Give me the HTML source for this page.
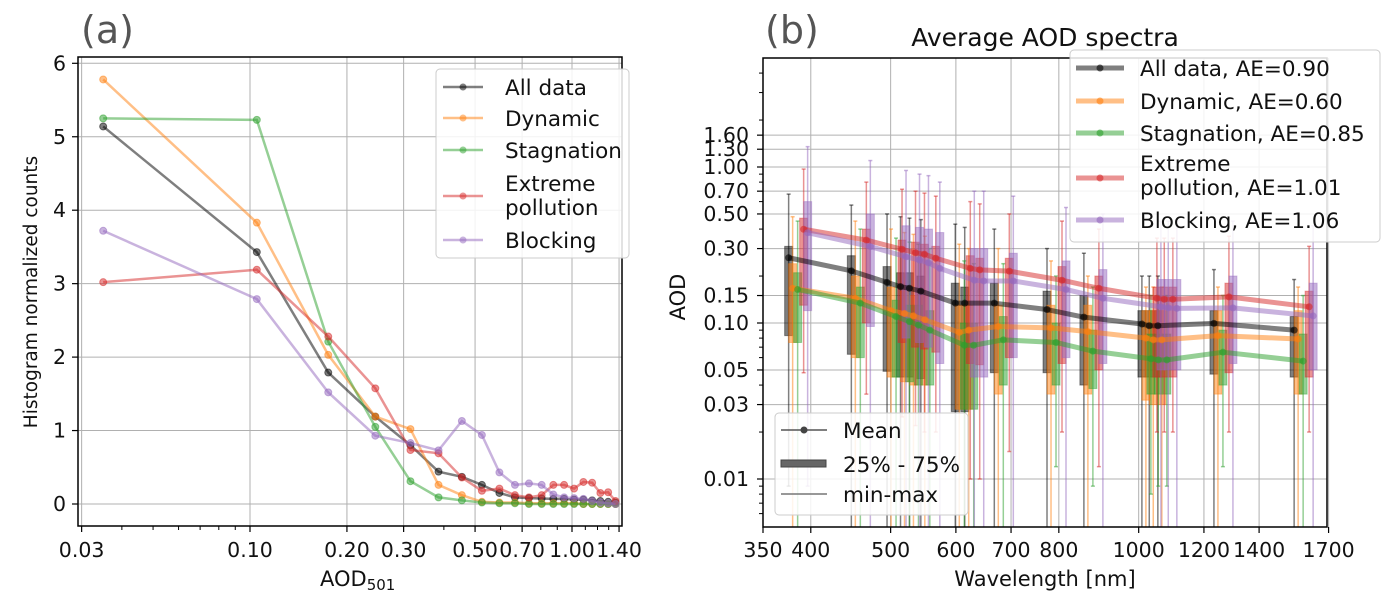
<!DOCTYPE html>
<html><head><meta charset="utf-8"><style>
body{margin:0;background:#fff}
svg{display:block;font-family:"DejaVu Sans","Liberation Sans",sans-serif}
</style></head><body>
<svg id="fig" width="1392" height="601" viewBox="0 0 1392 601">
<defs>
<clipPath id="clipA"><rect x="78" y="57" width="544" height="469"/></clipPath>
<clipPath id="clipB"><rect x="763" y="58" width="564" height="469"/></clipPath>
</defs>
<g id="panelA"></g>
<g id="panelB"></g>
</svg>
<script>
// ---------- Panel (a) data ----------
const binCenters = [0.035,0.105,0.175,0.245,0.315,0.385,0.455,0.525,0.595,0.665,0.735,0.805,0.875,0.945,1.015,1.085,1.155,1.225,1.295,1.365];
const histAll = [5.14,3.43,1.79,1.19,0.80,0.44,0.37,0.26,0.15,0.09,0.08,0.075,0.07,0.07,0.06,0.06,0.05,0.04,0.03,0.02];
const histDynamic = [5.78,3.83,2.03,1.19,1.02,0.26,0.12,0.03,0.02,0.02,0.01,0.01,0.01,0.01,0.01,0.0,0.0,0.0,0.0,0.0];
const histStagnation = [5.25,5.23,2.21,1.05,0.31,0.09,0.05,0.02,0.01,0.01,0.0,0.0,0.0,0.0,0.0,0.0,0.0,0.0,0.0,0.0];
const histExtreme = [3.02,3.19,2.28,1.575,0.735,0.69,0.36,0.18,0.21,0.12,0.09,0.12,0.26,0.26,0.21,0.30,0.29,0.15,0.16,0.04];
const histBlocking = [3.72,2.79,1.52,0.93,0.83,0.73,1.13,0.94,0.43,0.26,0.28,0.26,0.13,0.09,0.08,0.07,0.04,0.02,0.01,0.0];
const aXTicks = [0.03,0.1,0.2,0.3,0.5,0.7,1.0,1.4];
const aXTickLabels = ["0.03","0.10","0.20","0.30","0.50","0.70","1.00","1.40"];
const aYTicks = [0,1,2,3,4,5,6];

// ---------- Panel (b) data ----------
const wavelengths = [376,448,495,514,527,544,599,615,668,774,858,1009,1030,1055,1234,1544];
const meanAll = [0.262,0.216,0.182,0.171,0.167,0.160,0.134,0.134,0.134,0.122,0.109,0.0985,0.096,0.096,0.0995,0.090];
const meanDynamic = [0.167,0.144,0.120,0.115,0.111,0.105,0.087,0.090,0.095,0.093,0.088,0.080,0.078,0.078,0.083,0.079];
const meanStagnation = [0.164,0.134,0.110,0.102,0.097,0.090,0.072,0.072,0.078,0.075,0.066,0.059,0.058,0.058,0.065,0.057];
const meanExtreme = [0.399,0.34,0.297,0.282,0.276,0.26,0.224,0.219,0.215,0.188,0.167,0.144,0.142,0.142,0.147,0.127];
const meanBlocking = [0.379,0.309,0.266,0.253,0.243,0.224,0.188,0.186,0.186,0.164,0.144,0.127,0.125,0.124,0.125,0.111];
const q75All = [0.31,0.27,0.23,0.21,0.21,0.2,0.18,0.17,0.18,0.16,0.15,0.12,0.12,0.12,0.12,0.11];
const q25All = [0.083,0.063,0.049,0.045,0.045,0.044,0.027,0.027,0.048,0.048,0.04,0.045,0.045,0.045,0.047,0.045];
const maxAll = [0.67,0.57,0.5,0.48,0.47,0.46,0.43,0.41,0.4,0.3,0.28,0.2,0.2,0.2,0.22,0.19];
const minAll = [0.009,0.003,0.003,0.003,0.003,0.003,0.003,0.003,0.003,0.003,0.003,0.003,0.003,0.003,0.003,0.003];
const q75Dynamic = [0.24,0.2,0.17,0.16,0.15,0.15,0.13,0.13,0.13,0.13,0.13,0.12,0.12,0.12,0.12,0.12];
const q25Dynamic = [0.075,0.06,0.045,0.042,0.04,0.04,0.028,0.028,0.035,0.035,0.035,0.032,0.03,0.03,0.035,0.035];
const maxDynamic = [0.48,0.45,0.4,0.38,0.37,0.36,0.32,0.3,0.3,0.25,0.2,0.17,0.17,0.17,0.17,0.17];
const minDynamic = [0.003,0.003,0.003,0.003,0.003,0.003,0.003,0.003,0.003,0.003,0.003,0.003,0.003,0.003,0.003,0.003];
const q75Stagnation = [0.21,0.17,0.14,0.13,0.13,0.12,0.1,0.1,0.11,0.1,0.09,0.085,0.085,0.085,0.09,0.085];
const q25Stagnation = [0.075,0.06,0.045,0.042,0.04,0.04,0.028,0.028,0.04,0.04,0.038,0.035,0.035,0.035,0.04,0.035];
const maxStagnation = [0.45,0.4,0.35,0.33,0.32,0.3,0.25,0.24,0.24,0.2,0.17,0.15,0.15,0.15,0.15,0.15];
const minStagnation = [0.003,0.003,0.003,0.003,0.003,0.003,0.003,0.003,0.003,0.012,0.009,0.008,0.009,0.009,0.012,0.003];
const q75Extreme = [0.47,0.4,0.34,0.33,0.32,0.31,0.27,0.26,0.26,0.23,0.2,0.17,0.17,0.17,0.18,0.16];
const q25Extreme = [0.13,0.1,0.075,0.07,0.068,0.065,0.055,0.054,0.06,0.055,0.05,0.045,0.045,0.045,0.048,0.045];
const maxExtreme = [0.97,0.8,0.72,0.7,0.68,0.65,0.6,0.58,0.5,0.45,0.4,0.35,0.35,0.35,0.36,0.31];
const minExtreme = [0.048,0.035,0.025,0.022,0.02,0.02,0.01,0.01,0.015,0.02,0.012,0.02,0.02,0.02,0.02,0.02];
const q75Blocking = [0.6,0.5,0.42,0.41,0.4,0.38,0.3,0.3,0.28,0.25,0.22,0.19,0.19,0.19,0.2,0.18];
const q25Blocking = [0.12,0.095,0.08,0.075,0.07,0.055,0.045,0.045,0.06,0.06,0.055,0.05,0.05,0.05,0.055,0.05];
const maxBlocking = [1.35,1.1,0.95,0.9,0.88,0.8,0.7,0.7,0.65,0.55,0.5,0.45,0.45,0.45,0.45,0.42];
const minBlocking = [0.009,0.003,0.003,0.003,0.003,0.003,0.003,0.003,0.003,0.003,0.003,0.003,0.003,0.003,0.003,0.003];
const bXTicks = [350,400,500,600,700,800,1000,1200,1400,1700];
const bYTicks = [0.01,0.03,0.05,0.1,0.15,0.3,0.5,0.7,1.0,1.3,1.6];
const bYTickLabels = ["0.01","0.03","0.05","0.10","0.15","0.30","0.50","0.70","1.00","1.30","1.60"];

const NS="http://www.w3.org/2000/svg";
function mk(parent,tag,attrs,text){const e=document.createElementNS(NS,tag);for(const k in attrs)e.setAttribute(k,attrs[k]);if(text!==undefined)e.textContent=text;parent.appendChild(e);return e;}

const axA = v => 250 + 322*Math.log10(v/0.1);
const ayA = v => 504 - 73.45*v;
const axB = v => 763 + 824*Math.log10(v/350);
const ayB = v => 323 - 156*Math.log10(v/0.1);

const colors = ["#000000","#ff7f0e","#2ca02c","#d62728","#9467bd"];
const names = ["All data","Dynamic","Stagnation","Extreme pollution","Blocking"];
const TICK=20.5, LEG=21.5, AXT=21;

// ================= PANEL A =================
const A=document.getElementById('panelA');
let t=mk(A,'text',{x:81,y:43,'font-size':38,fill:'#555'},'(a)');


const gridA=mk(A,'g',{});


aXTicks.forEach((v,i)=>{
  const x=axA(v);
  mk(gridA,'line',{x1:x,x2:x,y1:57,y2:526,stroke:'#b0b0b0','stroke-width':1});
  mk(A,'line',{x1:x,x2:x,y1:526,y2:532,stroke:'#000','stroke-width':1.2});
  const l=mk(A,'text',{x:x,y:557,'font-size':TICK,'text-anchor':'middle',fill:'#111'},aXTickLabels[i]);
  
  
});
[0.04,0.05,0.06,0.07,0.08,0.09,0.4,0.6,0.8,0.9,1.1,1.2,1.3].forEach(v=>{
  const x=axA(v);mk(A,'line',{x1:x,x2:x,y1:526,y2:530,stroke:'#000','stroke-width':1});
});
aYTicks.forEach(v=>{
  const y=ayA(v);
  mk(gridA,'line',{x1:78,x2:622,y1:y,y2:y,stroke:'#b0b0b0','stroke-width':1});
  mk(A,'line',{x1:72,x2:78,y1:y,y2:y,stroke:'#000','stroke-width':1.2});
  const l=mk(A,'text',{x:66,y:y+7,'font-size':TICK,'text-anchor':'end',fill:'#111'},String(v));
  
  
});
const seriesA=[histAll,histDynamic,histStagnation,histExtreme,histBlocking];
const keysA=['all-data','dynamic','stagnation','extreme-pollution','blocking'];
const plotA=mk(A,'g',{'clip-path':'url(#clipA)'});
seriesA.forEach((arr,si)=>{
  const g=mk(plotA,'g',{});
  
  
  const pts=arr.map((v,i)=>axA(binCenters[i])+','+ayA(v)).join(' ');
  mk(g,'polyline',{points:pts,fill:'none',stroke:colors[si],'stroke-opacity':0.5,'stroke-width':2.5});
  arr.forEach((v,i)=>{
    const c=mk(g,'circle',{cx:axA(binCenters[i]),cy:ayA(v),r:3.5,fill:colors[si],'fill-opacity':0.5,stroke:colors[si],'stroke-opacity':0.5});
    
    
  });
});
mk(A,'rect',{x:78,y:57,width:544,height:469,fill:'none',stroke:'#000','stroke-width':1.5});
t=mk(A,'text',{x:0,y:0,'font-size':18.5,'text-anchor':'middle',fill:'#111',transform:'translate(37,292) rotate(-90)'},'Histogram normalized counts');


t=mk(A,'text',{x:320,y:586,'font-size':AXT,fill:'#111'},'AOD');


mk(t,'tspan',{'font-size':15,dy:4},'501');
// legend A
const legA=mk(A,'g',{});


mk(legA,'rect',{x:436,y:69,width:193,height:189,rx:4,fill:'#fff','fill-opacity':0.85,stroke:'#ccc'});
const legAY=[[87],[118],[150],[183,207],[240]];
const legALine=[87,118,150,196,240];
names.forEach((n,i)=>{
  const e=mk(legA,'g',{});
  
  
  const y=legALine[i];
  mk(e,'line',{x1:443,x2:483,y1:y,y2:y,stroke:colors[i],'stroke-opacity':0.5,'stroke-width':2.5});
  mk(e,'circle',{cx:463,cy:y,r:3.5,fill:colors[i],'fill-opacity':0.5});
  const parts = i===3?['Extreme','pollution']:[n];
  parts.forEach((p,j)=>mk(e,'text',{x:505,y:legAY[i][j]+8,'font-size':LEG,fill:'#111'},p));
});

// ================= PANEL B =================
const B=document.getElementById('panelB');
t=mk(B,'text',{x:765,y:43,'font-size':38,fill:'#555'},'(b)');


t=mk(B,'text',{x:1045,y:46,'font-size':25,'text-anchor':'middle',fill:'#111'},'Average AOD spectra');


const gridB=mk(B,'g',{});


bXTicks.forEach(v=>{
  const x=axB(v);
  mk(gridB,'line',{x1:x,x2:x,y1:58,y2:527,stroke:'#b0b0b0','stroke-width':1});
  mk(B,'line',{x1:x,x2:x,y1:527,y2:533,stroke:'#000','stroke-width':1.2});
  const l=mk(B,'text',{x:x,y:557,'font-size':TICK,'text-anchor':'middle',fill:'#111'},String(v));
  
  
});
bYTicks.forEach((v,i)=>{
  const y=ayB(v);
  mk(gridB,'line',{x1:763,x2:1327,y1:y,y2:y,stroke:'#b0b0b0','stroke-width':1});
  mk(B,'line',{x1:757,x2:763,y1:y,y2:y,stroke:'#000','stroke-width':1.2});
  const l=mk(B,'text',{x:749,y:y+7,'font-size':TICK,'text-anchor':'end',fill:'#111'},bYTickLabels[i]);
  
  
});
[0.006,0.007,0.008,0.009,0.02,0.04,0.06,0.07,0.08,0.09,0.2,0.4,0.6,0.8,0.9,2,3,4].forEach(v=>{
  const y=ayB(v);mk(B,'line',{x1:759,x2:763,y1:y,y2:y,stroke:'#000','stroke-width':1});
});
const meansB=[meanAll,meanDynamic,meanStagnation,meanExtreme,meanBlocking];
const q75B=[q75All,q75Dynamic,q75Stagnation,q75Extreme,q75Blocking];
const q25B=[q25All,q25Dynamic,q25Stagnation,q25Extreme,q25Blocking];
const maxB=[maxAll,maxDynamic,maxStagnation,maxExtreme,maxBlocking];
const minB=[minAll,minDynamic,minStagnation,minExtreme,minBlocking];
const offB=[0,4,9,15,19];
const plotB=mk(B,'g',{'clip-path':'url(#clipB)'});
meansB.forEach((arr,si)=>{
  const g=mk(plotB,'g',{});
  
  
  arr.forEach((v,i)=>{
    const x=axB(wavelengths[i])+offB[si];
    mk(g,'line',{x1:x,x2:x,y1:ayB(maxB[si][i]),y2:ayB(minB[si][i]),stroke:colors[si],'stroke-opacity':0.5,'stroke-width':1.5});
    mk(g,'line',{x1:x-2,x2:x+2,y1:ayB(maxB[si][i]),y2:ayB(maxB[si][i]),stroke:colors[si],'stroke-opacity':0.5,'stroke-width':1.5});
    mk(g,'line',{x1:x-2,x2:x+2,y1:ayB(minB[si][i]),y2:ayB(minB[si][i]),stroke:colors[si],'stroke-opacity':0.5,'stroke-width':1.5});
    const r=mk(g,'rect',{x:x-4,y:ayB(q75B[si][i]),width:8,height:ayB(q25B[si][i])-ayB(q75B[si][i]),fill:colors[si],'fill-opacity':0.5,stroke:colors[si],'stroke-opacity':0.4});
    
    
  });
});
meansB.forEach((arr,si)=>{
  const g=mk(plotB,'g',{});
  
  
  const pts=arr.map((v,i)=>(axB(wavelengths[i])+offB[si])+','+ayB(v)).join(' ');
  mk(g,'polyline',{points:pts,fill:'none',stroke:colors[si],'stroke-opacity':0.5,'stroke-width':5,'stroke-linejoin':'round'});
  arr.forEach((v,i)=>{
    const c=mk(g,'circle',{cx:axB(wavelengths[i])+offB[si],cy:ayB(v),r:3.5,fill:colors[si],'fill-opacity':0.6});
    
    
  });
});
mk(B,'rect',{x:763,y:58,width:564,height:469,fill:'none',stroke:'#000','stroke-width':1.5});
t=mk(B,'text',{x:0,y:0,'font-size':AXT,'text-anchor':'middle',fill:'#111',transform:'translate(685,297) rotate(-90)'},'AOD');


t=mk(B,'text',{x:1045,y:586,'font-size':AXT,'text-anchor':'middle',fill:'#111'},'Wavelength [nm]');


// legend B (series)
const legB=mk(B,'g',{});


mk(legB,'rect',{x:1070,y:50,width:310,height:192,rx:4,fill:'#fff','fill-opacity':0.85,stroke:'#ccc'});
const legBLine=[68,101,133,178,220];
const legBText=[["All data, AE=0.90"],["Dynamic, AE=0.60"],["Stagnation, AE=0.85"],["Extreme","pollution, AE=1.01"],["Blocking, AE=1.06"]];
const legBTY=[[68],[101],[133],[163,187],[220]];
names.forEach((n,i)=>{
  const e=mk(legB,'g',{});
  
  
  const y=legBLine[i];
  mk(e,'line',{x1:1076,x2:1124,y1:y,y2:y,stroke:colors[i],'stroke-opacity':0.5,'stroke-width':5});
  mk(e,'circle',{cx:1100,cy:y,r:3.5,fill:colors[i],'fill-opacity':0.6});
  legBText[i].forEach((p,j)=>mk(e,'text',{x:1140,y:legBTY[i][j]+8,'font-size':LEG,fill:'#111'},p));
});
// legend B (styles)
const legC=mk(B,'g',{});


mk(legC,'rect',{x:775,y:413,width:193,height:102,rx:4,fill:'#fff','fill-opacity':0.85,stroke:'#ccc'});
mk(legC,'line',{x1:781,x2:827,y1:430,y2:430,stroke:'#555','stroke-width':1.5});
mk(legC,'circle',{cx:804,cy:430,r:3.5,fill:'#444'});
mk(legC,'text',{x:843,y:438,'font-size':LEG,fill:'#111'},'Mean');
mk(legC,'rect',{x:781,y:460,width:45,height:7,fill:'#666',stroke:'#444'});
mk(legC,'text',{x:843,y:472,'font-size':LEG,fill:'#111'},'25% - 75%');
mk(legC,'line',{x1:781,x2:827,y1:494,y2:494,stroke:'#777','stroke-width':1.5});
mk(legC,'text',{x:843,y:502,'font-size':LEG,fill:'#111'},'min-max');
</script>
</body></html>
